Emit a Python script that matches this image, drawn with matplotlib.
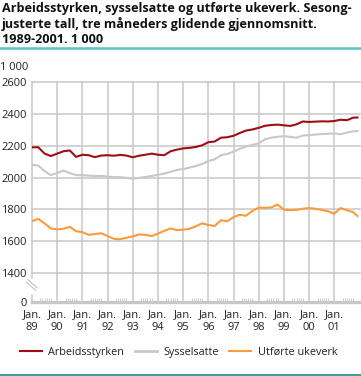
import matplotlib
matplotlib.use('Agg')
import matplotlib.pyplot as plt
from matplotlib.lines import Line2D

plt.rcParams['font.family'] = ['Open Sans', 'DejaVu Sans']

# quarterly readings, Jan 1989 - Dec 2001 (1 000 persons / weekly man-years)
dates = [1989 + q / 4 for q in range(52)] + [2001.92]
arbeidsstyrken = [
    2190, 2190, 2150, 2135, 2150, 2165, 2170, 2130, 2143, 2140, 2128, 2138,
    2140, 2137, 2142, 2138, 2127, 2137, 2143, 2150, 2143, 2140, 2165, 2175,
    2183, 2186, 2192, 2202, 2222, 2226, 2250, 2253, 2262, 2280, 2295, 2302,
    2312, 2325, 2330, 2332, 2328, 2324, 2334, 2352, 2349, 2351, 2353, 2352,
    2355, 2363, 2360, 2376, 2377,
]
sysselsatte = [
    2080, 2075, 2040, 2015, 2028, 2044, 2028, 2015, 2015, 2012, 2010, 2010,
    2006, 2002, 2002, 1998, 1992, 1998, 2003, 2010, 2017, 2025, 2035, 2048,
    2053, 2062, 2072, 2085, 2104, 2114, 2140, 2148, 2163, 2180, 2195, 2205,
    2215, 2240, 2250, 2256, 2260, 2255, 2250, 2264, 2266, 2270, 2273, 2275,
    2277, 2272, 2282, 2290, 2292,
]
ukeverk = [
    1726, 1740, 1712, 1680, 1674, 1678, 1690, 1663, 1657, 1640, 1645, 1650,
    1632, 1615, 1612, 1622, 1630, 1642, 1640, 1632, 1647, 1665, 1680, 1670,
    1672, 1678, 1693, 1712, 1702, 1695, 1732, 1725, 1751, 1766, 1760, 1790,
    1811, 1810, 1812, 1830, 1798, 1795, 1797, 1804, 1808, 1804, 1796, 1788,
    1772, 1808, 1795, 1782, 1758,
]
years = list(range(1989, 2002))
year_labels = ['Jan.\n%02d' % (y % 100) for y in years]
ytick_vals = [1400, 1600, 1800, 2000, 2200, 2400, 2600]

RED = '#9e0e14'
GRAY = '#c8c8c8'
ORANGE = '#ff9a3c'
GRID = '#c8c8c8'
TEXT = '#222222'

W, H = 361, 376
fig = plt.figure(figsize=(W / 100, H / 100), dpi=100)
zero = 1218  # where the broken axis puts 0
ax = fig.add_axes([32 / W, (H - 302) / H, (359.5 - 32) / W, (302 - 82) / H])
ax.set_xlim(1989, 2002)
ax.set_ylim(zero, 2600)
for s in ax.spines.values():
    s.set_visible(False)

# grid
for v in ytick_vals:
    ax.axhline(v, color=GRID, lw=1.1, zorder=0, clip_on=False)
for y in years[1:]:
    ax.plot([y, y], [zero, 2600], color=GRID, lw=1.1, zorder=0, clip_on=False)
# left axis with a break
ax.plot([1989, 1989], [1370, 2600], color=GRID, lw=1.1, zorder=0, clip_on=False)
ax.plot([1989, 1989], [zero, 1262], color=GRID, lw=1.1, zorder=0, clip_on=False)
ax.plot([1988.84, 1989.2], [1358, 1308], color=GRID, lw=0.9, clip_on=False)
ax.plot([1988.78, 1989.14], [1342, 1292], color=GRID, lw=0.9, clip_on=False)
ax.axhline(zero, color=GRID, lw=2.4, zorder=1, clip_on=False)

ax.plot(dates, sysselsatte, color=GRAY, lw=1.5, zorder=3)
ax.plot(dates, arbeidsstyrken, color=RED, lw=1.5, zorder=4)
ax.plot(dates, ukeverk, color=ORANGE, lw=1.5, zorder=4)

ax.set_yticks([zero] + ytick_vals)
ax.set_yticklabels(['0'] + [str(v) for v in ytick_vals])
ax.set_xticks(years)
ax.set_xticklabels(year_labels, linespacing=1.25)
ax.set_xticks([y + k / 12 for y in years for k in range(4, 10)], minor=True)
ax.tick_params(axis='both', which='major', length=0, labelsize=8, colors=TEXT)
ax.tick_params(axis='y', pad=4)
ax.tick_params(axis='x', pad=5)
ax.tick_params(axis='x', which='minor', direction='in', length=3, width=0.6, color=GRID)

fig.text(0.0, (H - 68) / H, '1 000', fontsize=8, color=TEXT, va='center', ha='left')

fig.text(0.005, 1 - 2 / H,
         'Arbeidsstyrken, sysselsatte og utførte ukeverk. Sesong-\n'
         'justerte tall, tre måneders glidende gjennomsnitt.\n'
         '1989-2001. 1 000',
         fontsize=9.1, fontweight='bold', va='top', ha='left', color='#111111',
         linespacing=1.2)

fig.add_artist(Line2D([0, 1], [1 - 48 / H] * 2, color='#58c3c3', lw=1.8))
fig.add_artist(Line2D([0, 1], [1 / H] * 2, color='#1e8c87', lw=1.2))

handles = [Line2D([], [], color=RED, lw=1.5),
           Line2D([], [], color=GRAY, lw=2),
           Line2D([], [], color=ORANGE, lw=1.5)]
fig.legend(handles, ['Arbeidsstyrken', 'Sysselsatte', 'Utførte ukeverk'],
           loc='center', bbox_to_anchor=(0.495, (H - 352) / H), ncol=3,
           frameon=False, fontsize=7.8, handlelength=2.0, handletextpad=0.6,
           columnspacing=1.0, labelcolor=TEXT)

fig.savefig('out.png', dpi=100)
